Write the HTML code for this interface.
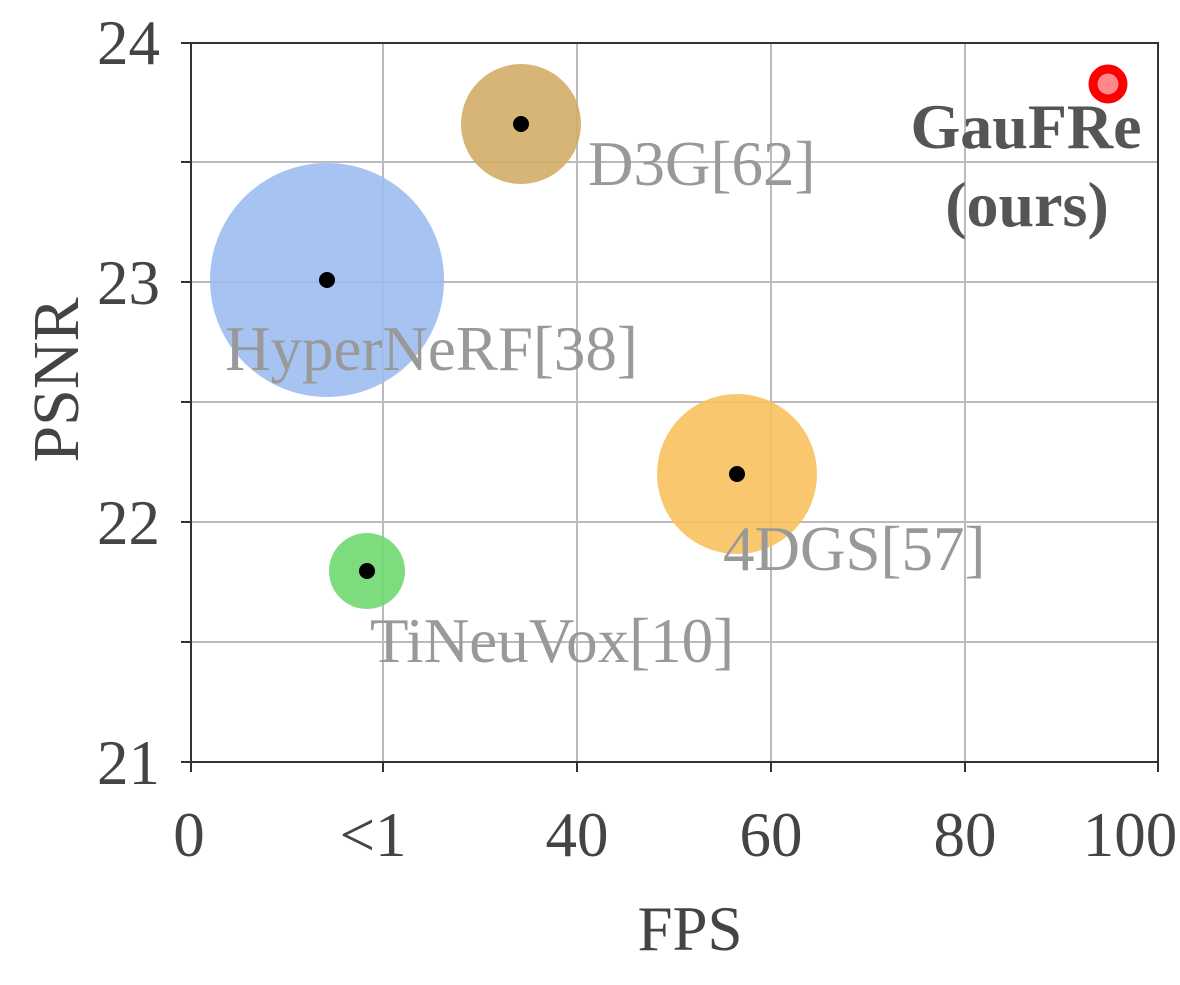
<!DOCTYPE html>
<html><head><style>body{margin:0;background:#fff}</style></head><body>
<svg width="1180" height="980" xmlns="http://www.w3.org/2000/svg" font-family="Liberation Serif, serif">
<rect width="1180" height="980" fill="#fff"/>
<g stroke="#bbb" stroke-width="2">
<line x1="383" y1="43" x2="383" y2="762"/><line x1="577" y1="43" x2="577" y2="762"/>
<line x1="771" y1="43" x2="771" y2="762"/><line x1="965" y1="43" x2="965" y2="762"/>
<line x1="191" y1="162" x2="1158" y2="162"/><line x1="191" y1="282" x2="1158" y2="282"/>
<line x1="191" y1="402" x2="1158" y2="402"/><line x1="191" y1="522" x2="1158" y2="522"/>
<line x1="191" y1="642" x2="1158" y2="642"/>
</g>
<circle cx="327" cy="280" r="117" fill="#9dbcf0" opacity="0.9"/>
<circle cx="521" cy="124" r="60" fill="#d2ad68" opacity="0.9"/>
<circle cx="737" cy="474" r="80" fill="#f8c25e" opacity="0.9"/>
<circle cx="367" cy="571" r="38" fill="#6fd86f" opacity="0.9"/>
<g fill="#000"><circle cx="327" cy="280" r="8"/><circle cx="521" cy="124" r="8"/><circle cx="737" cy="474" r="8"/><circle cx="367" cy="571" r="8"/></g>
<circle cx="1108" cy="84" r="15" fill="#f88" stroke="#f00" stroke-width="9"/>
<rect x="191" y="43" width="967" height="719" fill="none" stroke="#333" stroke-width="2"/>
<g stroke="#333" stroke-width="2">
<line x1="181" y1="43" x2="191" y2="43"/><line x1="181" y1="162" x2="191" y2="162"/><line x1="181" y1="282" x2="191" y2="282"/>
<line x1="181" y1="402" x2="191" y2="402"/><line x1="181" y1="522" x2="191" y2="522"/><line x1="181" y1="642" x2="191" y2="642"/><line x1="181" y1="762" x2="191" y2="762"/>
<line x1="191" y1="762" x2="191" y2="772"/><line x1="383" y1="762" x2="383" y2="772"/><line x1="577" y1="762" x2="577" y2="772"/><line x1="771" y1="762" x2="771" y2="772"/><line x1="965" y1="762" x2="965" y2="772"/><line x1="1158" y1="762" x2="1158" y2="772"/>
</g>
<g fill="#444" font-size="63" text-anchor="end">
<text x="160" y="64">24</text><text x="160" y="304">23</text><text x="160" y="544">22</text><text x="160" y="784">21</text>
</g>
<g fill="#444" font-size="63" text-anchor="middle">
<text x="189" y="856">0</text><text x="373" y="856">&lt;1</text><text x="577" y="856">40</text><text x="771" y="856">60</text><text x="965" y="856">80</text><text x="1130" y="856">100</text>
<text x="690" y="950">FPS</text>
</g>
<text transform="translate(78,380) rotate(-90)" fill="#444" font-size="66" text-anchor="middle">PSNR</text>
<g fill="#999" font-size="63">
<text x="588" y="185">D3G[62]</text>
<text x="225" y="370">HyperNeRF[38]</text>
<text x="723" y="570">4DGS[57]</text>
<text x="370" y="662">TiNeuVox[10]</text>
</g>
<g fill="#555" font-size="64" font-weight="bold" text-anchor="middle">
<text x="1026" y="148">GauFRe</text><text x="1027" y="226">(ours)</text>
</g>
</svg>
</body></html>
